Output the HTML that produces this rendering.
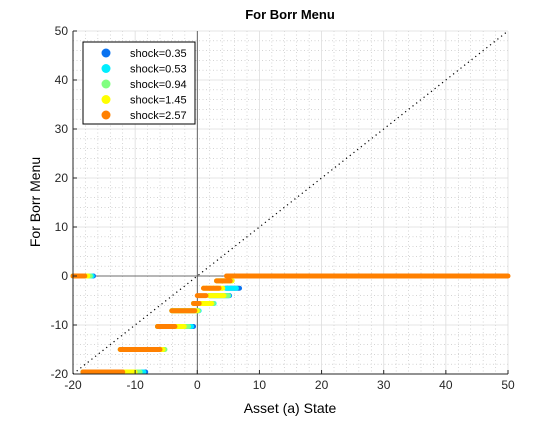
<!DOCTYPE html>
<html><head><meta charset="utf-8"><style>
body{margin:0;background:#fff;width:560px;height:420px;overflow:hidden;font-family:"Liberation Sans",sans-serif}
</style></head><body>
<svg id="chart" width="560" height="420" xmlns="http://www.w3.org/2000/svg" font-family="Liberation Sans, sans-serif">
<rect x="0" y="0" width="560" height="420" fill="#fff"/>
<text x="290" y="19" text-anchor="middle" font-size="13" font-weight="bold">For Borr Menu</text>
<g id="grid"></g>
<g id="marks"></g>
<g id="axes"></g>
<text x="290" y="413" text-anchor="middle" font-size="14">Asset (a) State</text>
<text x="0" y="0" transform="translate(40,202) rotate(-90)" text-anchor="middle" font-size="14">For Borr Menu</text>
<g>
<rect x="83" y="42" width="112" height="82" fill="#fff" stroke="#000" stroke-width="1"/>
<g id="legend-items"></g>
</g>
</svg>
<script>
const shockLabels=["shock=0.35","shock=0.53","shock=0.94","shock=1.45","shock=2.57"];
const shockColors=["#0a72f0","#00eeff","#80ff80","#ffff00","#ff8000"];
// segments: [shockIndex, yValue, xStart, xEnd]
const blueSegs=[[0,0,-20,-16.7],[0,-2.5,4.6,6.8],[0,-10.3,-6.4,-0.6],[0,-19.6,-18.4,-8.3],[0,-4,1.9,5.2]];
const cyanSegs=[[1,0,-20,-16.9],[1,-2.5,4.6,6.3],[1,-10.3,-6.4,-0.9],[1,-19.6,-18.4,-8.6],[1,-4,1.9,5.1],[1,-5.6,-0.6,2.7],[1,-7.1,-4.1,0.3]];
const greenSegs=[[2,0,-20,-17.2],[2,-4,1.9,5.0],[2,-10.3,-6.4,-1.4],[2,-15,-12.4,-5.2],[2,-19.6,-18.4,-9.2],[2,-5.6,-0.6,2.6],[2,-7.1,-4.1,0.2],[2,-1,3.1,5.6]];
const yellowSegs=[[3,0,-20,-17.6],[3,-1,3.1,5.6],[3,-2.5,1.0,4.1],[3,-4,1.9,4.3],[3,-5.6,-0.6,2.3],[3,-7.1,-4.1,0],[3,-10.3,-6.4,-2.1],[3,-15,-12.4,-5.5],[3,-19.6,-18.4,-10.0]];
const orangeSegs=[[4,0,-20,-18.1],[4,0,4.7,50],[4,-1,3.1,5.3],[4,-2.5,1.0,3.5],[4,-4,0,1.4],[4,-5.6,-0.6,0.3],[4,-7.1,-4.1,-0.4],[4,-10.3,-6.4,-3.6],[4,-15,-12.4,-6.0],[4,-19.6,-18.4,-12.0]];
const xTicks=[-20,-10,0,10,20,30,40,50];
const yTicks=[-20,-10,0,10,20,30,40,50];
const NS="http://www.w3.org/2000/svg";
const X0=73,X1=508,Y0=374,Y1=31;
const sx=v=>X0+(v+20)/70*(X1-X0);
const sy=v=>Y0-(v+20)/70*(Y0-Y1);
function mk(tag,attrs,parent){const e=document.createElementNS(NS,tag);for(const k in attrs)e.setAttribute(k,attrs[k]);parent.appendChild(e);return e;}
const grid=document.getElementById('grid'),marks=document.getElementById('marks'),axes=document.getElementById('axes');
for(let v=-20;v<=50;v+=2){if(v%10===0)continue;
 let l=mk('line',{x1:sx(v),x2:sx(v),y1:Y1,y2:Y0,stroke:'#bbb','stroke-width':0.6,'stroke-dasharray':'1 2.5'},grid);
 
 let m=mk('line',{x1:X0,x2:X1,y1:sy(v),y2:sy(v),stroke:'#bbb','stroke-width':0.6,'stroke-dasharray':'1 2.5'},grid);
 }
xTicks.forEach(v=>{let l=mk('line',{x1:sx(v),x2:sx(v),y1:Y1,y2:Y0,stroke:'#ddd','stroke-width':0.8},grid);
 });
yTicks.forEach(v=>{let l=mk('line',{x1:X0,x2:X1,y1:sy(v),y2:sy(v),stroke:'#ddd','stroke-width':0.8},grid);
 });
let d=mk('line',{x1:sx(-20),y1:sy(-20),x2:sx(50),y2:sy(50),stroke:'#000','stroke-width':1.2,'stroke-dasharray':'1.2 3.5'},marks);

let zh=mk('line',{x1:X0,x2:X1,y1:sy(0),y2:sy(0),stroke:'#444','stroke-width':0.8},marks);

let zv=mk('line',{x1:sx(0),x2:sx(0),y1:Y1,y2:Y0,stroke:'#444','stroke-width':0.8},marks);

[blueSegs,cyanSegs,greenSegs,yellowSegs,orangeSegs].forEach(arr=>arr.forEach(s=>{
 let l=mk('line',{x1:sx(s[2]),x2:sx(s[3]),y1:sy(s[1]),y2:sy(s[1]),stroke:shockColors[s[0]],'stroke-width':5,'stroke-linecap':'round'},marks);
 }));
let la=mk('line',{x1:X0,x2:X0,y1:Y1,y2:Y0,stroke:'#262626','stroke-width':1},axes);

let lb=mk('line',{x1:X0,x2:X1,y1:Y0,y2:Y0,stroke:'#262626','stroke-width':1},axes);

xTicks.forEach(v=>{mk('line',{x1:sx(v),x2:sx(v),y1:Y0,y2:Y0-4,stroke:'#262626'},axes);
 let t=mk('text',{x:sx(v),y:Y0+15,'text-anchor':'middle','font-size':12,fill:'#262626'},axes);t.textContent=v;
 });
yTicks.forEach(v=>{mk('line',{x1:X0,x2:X0+4,y1:sy(v),y2:sy(v),stroke:'#262626'},axes);
 let t=mk('text',{x:X0-5,y:sy(v)+4,'text-anchor':'end','font-size':12,fill:'#262626'},axes);t.textContent=v;
 });
const lg=document.getElementById('legend-items');
shockLabels.forEach((s,i)=>{const y=53+i*15.5;
 let c=mk('circle',{cx:106,cy:y,r:4.5,fill:shockColors[i]},lg);
 
 let t=mk('text',{x:130,y:y+4,'font-size':11},lg);t.textContent=s;
 });
</script>
</body></html>
